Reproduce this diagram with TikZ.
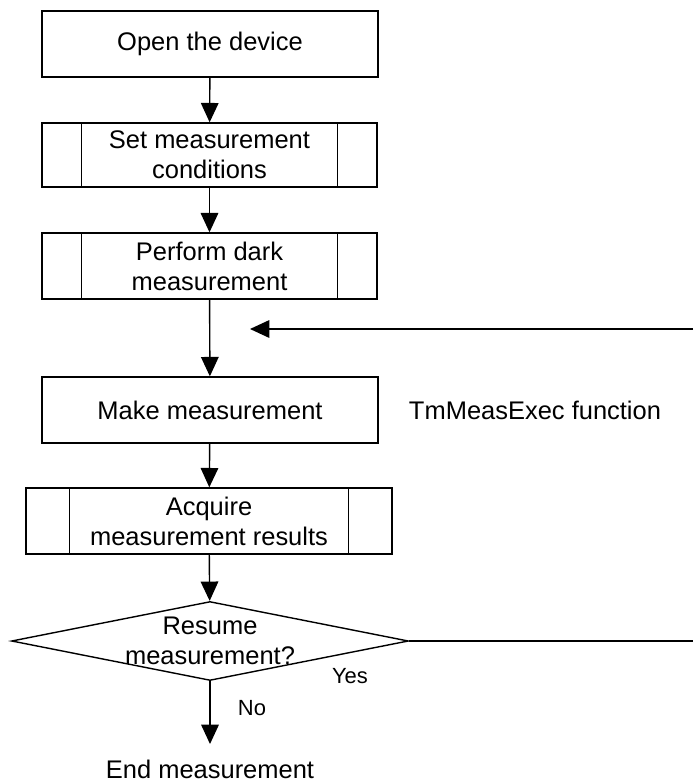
\documentclass[tikz,border=0pt]{standalone}
\usepackage{fontspec}
\setmainfont{Liberation Sans}
\usepackage{tikz}
\usetikzlibrary{shapes.geometric}
\usetikzlibrary{arrows.meta}

\begin{document}
\begin{tikzpicture}[x=0.02cm,y=-0.02cm,
    line width=0.8pt,
    font=\fontsize{14.5}{17}\selectfont,
    proc/.style={draw,rectangle,align=center,minimum width=6.72cm,minimum height=1.32cm},
    decision/.style={draw,diamond,inner sep=0pt,minimum width=7.94cm,minimum height=1.58cm},
    arr/.style={-{Triangle[length=11pt,width=10pt]}},
    lbl/.style={font=\fontsize{12.5}{14}\selectfont}]
  \useasboundingbox (0,0) rectangle (693,784);
  \node[proc] (open) at (210,44) {Open the device};
  \node[proc,minimum width=6.7cm,minimum height=1.28cm] (cond) at (209.5,155) {Set measurement\\conditions};
  \node[proc,minimum width=6.7cm] (dark) at (209.5,266) {Perform dark\\measurement};
  \node[proc] (meas) at (210,410) {Make measurement};
  \node[proc,minimum width=7.32cm] (res) at (209,521) {Acquire\\measurement results};
  \node[decision,label={[align=center]center:Resume\\measurement?}] (again) at (210,641) {};
  \node[inner ysep=8.5pt] (endm) at (210,769) {End measurement};
  \node (func) at (535,410) {TmMeasExec function};
  \foreach \n/\d in {cond/0.8,dark/0.8,res/0.88} {
    \draw ([xshift=\d cm]\n.north west) -- ([xshift=\d cm]\n.south west);
    \draw ([xshift=-\d cm]\n.north east) -- ([xshift=-\d cm]\n.south east);
  }
  \draw[arr] (open) -- (cond);
  \draw[arr] (cond) -- (dark);
  \draw[arr] (dark) -- (meas);
  \draw[arr] (meas) -- (res);
  \draw[arr] (res) -- (again);
  \draw[arr] (again) -- (endm);
  % loop back, cut at the right edge
  \coordinate (back1) at (693,641);
  \coordinate (back2) at (693,329);
  \coordinate (back3) at (250,329);
  \draw (again.east) -- (back1);
  \draw[arr] (back2) -- (back3);
  \node[lbl] (yes) at (350,676) {Yes};
  \node[lbl] (no) at (252,708) {No};
\end{tikzpicture}
\end{document}
